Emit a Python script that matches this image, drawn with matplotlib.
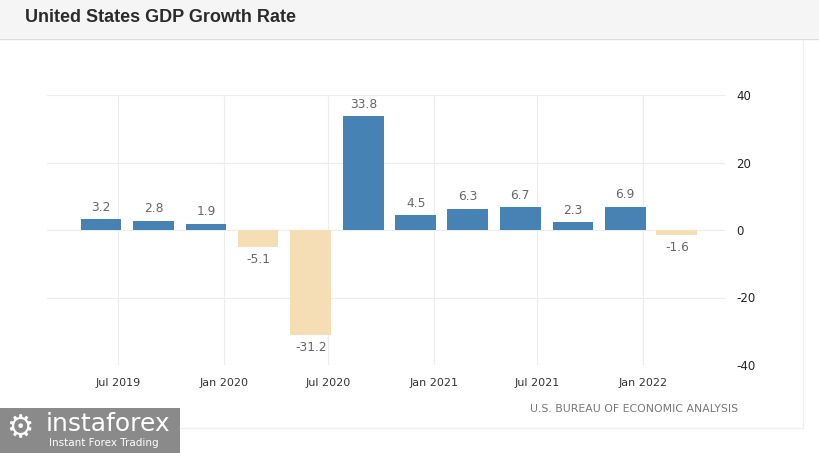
"""United States GDP growth rate, quarterly bars."""

import matplotlib

matplotlib.use("Agg")
import matplotlib.pyplot as plt
import matplotlib.dates as mdates
from datetime import date
from matplotlib.patches import Rectangle

plt.rcParams["axes.unicode_minus"] = False

# quarterly values (bar dates as plotted by the source chart)
bar_dates = [
    date(2019, 6, 1), date(2019, 9, 1), date(2019, 12, 1), date(2020, 3, 1),
    date(2020, 6, 1), date(2020, 9, 1), date(2020, 12, 1), date(2021, 3, 1),
    date(2021, 6, 1), date(2021, 9, 1), date(2021, 12, 1), date(2022, 3, 1),
]
growth = [3.2, 2.8, 1.9, -5.1, -31.2, 33.8, 4.5, 6.3, 6.7, 2.3, 6.9, -1.6]

tick_dates = [
    date(2019, 7, 1), date(2020, 1, 1), date(2020, 7, 1),
    date(2021, 1, 1), date(2021, 7, 1), date(2022, 1, 1),
]
tick_labels = ["Jul 2019", "Jan 2020", "Jul 2020", "Jan 2021", "Jul 2021", "Jan 2022"]
y_ticks = [-40, -20, 0, 20, 40]

title = "United States GDP Growth Rate"
source = "U.S. BUREAU OF ECONOMIC ANALYSIS"

POS = "#4682b4"
NEG = "#f5deb3"

fig = plt.figure(figsize=(8.2, 4.53), dpi=100)
W, H = 820, 453

# title bar
fig.patches.append(Rectangle((0, 1 - 38 / H), 1, 38 / H, transform=fig.transFigure,
                             facecolor="#f5f5f5", edgecolor="none", zorder=0))
fig.lines.append(plt.Line2D([0, 1], [1 - 38.5 / H] * 2, transform=fig.transFigure,
                            color="#dcdcdc", lw=1))
fig.text(25 / W, 1 - 18 / H, title, family="Liberation Sans", weight="bold",
         size=13, color="#2b2b2b", va="center", ha="left")

# faint panel borders
fig.lines.append(plt.Line2D([803 / W] * 2, [1 - 428 / H, 1 - 40 / H],
                            transform=fig.transFigure, color="#f0f0f0", lw=1))
fig.lines.append(plt.Line2D([180 / W, 803 / W], [1 - 428 / H] * 2,
                            transform=fig.transFigure, color="#f0f0f0", lw=1))

ax = fig.add_axes([47 / W, 1 - 365 / H, (725 - 47) / W, 270 / H])
x = mdates.date2num(bar_dates)
colors = [POS if v >= 0 else NEG for v in growth]
ax.bar(x, growth, width=71, color=colors, zorder=3)

for xi, v in zip(x, growth):
    off = 8.5 if v >= 0 else -8.5
    ax.annotate(f"{v}", (xi, v), xytext=(0, off), textcoords="offset points",
                ha="center", va="center", size=8.8, color="#666666", zorder=4)

ax.set_xlim(mdates.date2num(date(2019, 2, 27)), mdates.date2num(date(2022, 5, 24)))
ax.set_ylim(-40, 40)
ax.set_xticks(mdates.date2num(tick_dates))
ax.set_xticklabels(tick_labels)
ax.set_yticks(y_ticks)
ax.yaxis.tick_right()
ax.tick_params(axis="both", length=0, labelsize=8, colors="#333333")
ax.tick_params(axis="x", pad=9)
ax.tick_params(axis="y", pad=8, labelsize=8.5, colors="#222222")
for lab in ax.get_yticklabels():
    lab.set_horizontalalignment("left")
ax.grid(True, color="#ececec", lw=0.8, zorder=0)
for s in ax.spines.values():
    s.set_visible(False)

fig.text(738 / W, 1 - 409 / H, source, ha="right", va="center", size=7.8,
         color="#777777")

# logo box
fig.patches.append(Rectangle((0, 0), 180 / W, 45 / H, transform=fig.transFigure,
                             facecolor="#8a8a8a", edgecolor="none", zorder=1))
fig.text(6 / W, 1 - 429 / H, "\u2699", ha="left", va="center", size=22,
         color="white", zorder=2)
fig.text(46 / W, 1 - 424 / H, "instaforex", ha="left", va="center", size=18,
         color="white", zorder=2)
fig.text(49 / W, 1 - 443 / H, "Instant Forex Trading", ha="left", va="center",
         size=7.5, color="white", zorder=2)

fig.savefig("out.png", dpi=100)
